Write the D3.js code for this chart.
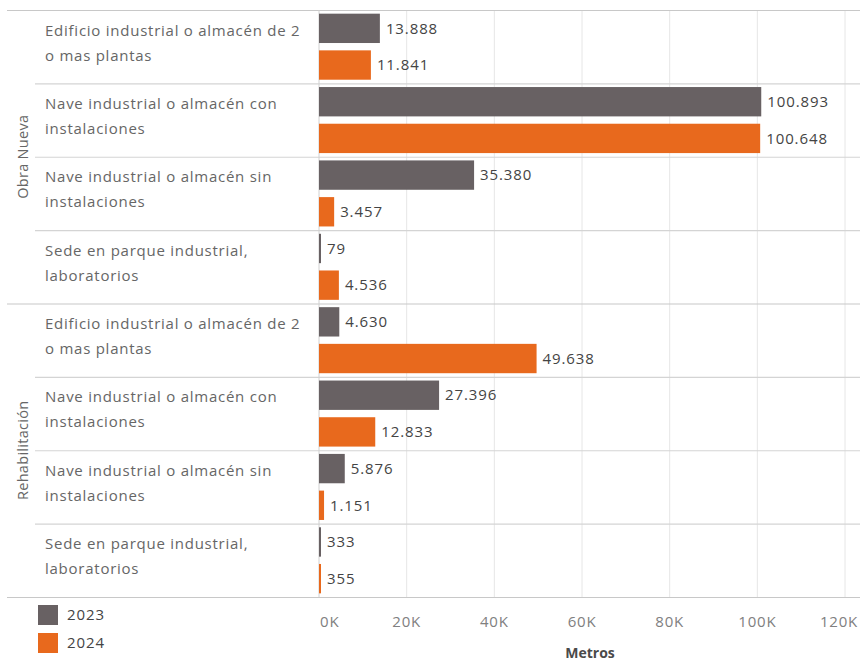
<!DOCTYPE html>
<html>
<head>
<script src="https://cdn.jsdelivr.net/npm/d3@7"></script>
<style>
  body { margin: 0; padding: 0; background: #fff; }
  svg { display: block; font-family: "Open Sans", sans-serif; }
</style>
</head>
<body>
<div id="viz"></div>
<script>
// data
var groups = ["Obra Nueva", "Rehabilitación"];
var categories = [
  ["Edificio industrial o almacén de 2", "o mas plantas"],
  ["Nave industrial o almacén con", "instalaciones"],
  ["Nave industrial o almacén sin", "instalaciones"],
  ["Sede en parque industrial,", "laboratorios"]
];
var years = ["2023", "2024"];
var values2023 = [13888, 100893, 35380, 79, 4630, 27396, 5876, 333];
var values2024 = [11841, 100648, 3457, 4536, 49638, 12833, 1151, 355];
var xTicks = [0, 20000, 40000, 60000, 80000, 100000, 120000];

var W = 860, H = 661;
var gray = "#686163", orange = "#e8691d";
var colors = [gray, orange];

var loc = d3.formatLocale({decimal: ",", thousands: ".", grouping: [3], currency: ["", "€"]});
var fmt = loc.format(",d");

var rows = [];
groups.forEach(function(g, gi) {
  categories.forEach(function(c, ci) {
    var i = gi * categories.length + ci;
    rows.push({group: g, gi: gi, lines: c, id: i, v: [values2023[i], values2024[i]]});
  });
});

var svg = d3.select("#viz").append("svg")
  .attr("width", W).attr("height", H);

var x = d3.scaleLinear().domain([0, 120000]).range([319, 845]);
var y = d3.scaleBand().domain(rows.map(function(d) { return d.id; })).range([10, 597]);
var yInner = d3.scaleBand().domain(years).range([0, y.bandwidth()]).paddingInner(0.2).paddingOuter(0.1);

// gridlines
svg.append("g").selectAll("line").data(xTicks.slice(1)).enter().append("line")
  .attr("x1", x).attr("x2", x).attr("y1", 10).attr("y2", 597)
  .attr("stroke", "#e6e6e6").attr("stroke-width", 1);

// row separators
svg.append("g").selectAll("line").data(rows.slice(1)).enter().append("line")
  .attr("x1", function(d) { return d.id % 4 === 0 ? 7 : 35; })
  .attr("x2", W)
  .attr("y1", function(d) { return y(d.id) + 0.5; })
  .attr("y2", function(d) { return y(d.id) + 0.5; })
  .attr("stroke", function(d) { return d.id % 4 === 0 ? "#c8c8c8" : "#d4d4d4"; })
  .attr("stroke-width", 1.2);

// top and bottom frame lines
[10, 597].forEach(function(yy) {
  svg.append("line").attr("x1", 7).attr("x2", W).attr("y1", yy + 0.5).attr("y2", yy + 0.5)
    .attr("stroke", "#c8c8c8").attr("stroke-width", 1.2);
});

// zero line
svg.append("line").attr("x1", x(0)).attr("x2", x(0)).attr("y1", 10).attr("y2", 597)
  .attr("stroke", "#d0d0d0").attr("stroke-width", 1);

// group labels
groups.forEach(function(g, gi) {
  var y0 = y(gi * 4), y1 = y(gi * 4 + 3) + y.bandwidth();
  svg.append("text")
    .attr("transform", "translate(28," + ((y0 + y1) / 2) + ") rotate(-90)")
    .attr("text-anchor", "middle")
    .attr("font-size", 14.5).attr("letter-spacing", 0.3).attr("fill", "#666")
    .text(g);
});

// category labels
var lab = svg.append("g").selectAll("text").data(rows).enter().append("text")
  .attr("x", 45)
  .attr("font-size", 15).attr("letter-spacing", 0.75).attr("fill", "#666");
lab.selectAll("tspan").data(function(d) { return d.lines.map(function(l, k) { return {l: l, k: k, d: d}; }); })
  .enter().append("tspan")
  .attr("x", 45)
  .attr("y", function(t) { return y(t.d.id) + 25.5 + t.k * 25; })
  .text(function(t) { return t.l; });

// bars
var rowG = svg.append("g").selectAll("g").data(rows).enter().append("g")
  .attr("transform", function(d) { return "translate(0," + y(d.id) + ")"; });

var bars = rowG.selectAll("g").data(function(d) {
  return years.map(function(yr, k) { return {yr: yr, k: k, v: d.v[k]}; });
}).enter().append("g");

bars.append("rect")
  .attr("x", x(0))
  .attr("y", function(d) { return yInner(d.yr); })
  .attr("width", function(d) { return Math.max(x(d.v) - x(0), 2); })
  .attr("height", yInner.bandwidth())
  .attr("fill", function(d) { return colors[d.k]; });

bars.append("text")
  .attr("x", function(d) { return Math.max(x(d.v), x(0) + 2) + 6; })
  .attr("y", function(d) { return yInner(d.yr) + yInner.bandwidth() / 2; })
  .attr("dy", "0.35em")
  .attr("font-size", 15).attr("letter-spacing", 0.9).attr("fill", "#444")
  .text(function(d) { return fmt(d.v); });

// x axis labels
svg.append("g").selectAll("text").data(xTicks).enter().append("text")
  .attr("x", function(d, i) { return i === 0 ? x(d) + 1 : i === xTicks.length - 1 ? W - 2 : x(d); })
  .attr("y", 627)
  .attr("text-anchor", function(d, i) { return i === 0 ? "start" : i === xTicks.length - 1 ? "end" : "middle"; })
  .attr("font-size", 15).attr("letter-spacing", 0.8).attr("fill", "#808080")
  .text(function(d) { return (d / 1000) + "K"; });

svg.append("text")
  .attr("x", 590).attr("y", 658)
  .attr("text-anchor", "middle")
  .attr("font-size", 14).attr("font-weight", "bold").attr("fill", "#4a4a4a")
  .text("Metros");

// legend
var leg = svg.append("g").selectAll("g").data(years).enter().append("g")
  .attr("transform", function(d, i) { return "translate(38," + (605 + i * 28) + ")"; });
leg.append("rect").attr("width", 20).attr("height", 20)
  .attr("fill", function(d, i) { return colors[i]; });
leg.append("text").attr("x", 29).attr("y", 10).attr("dy", "0.35em")
  .attr("font-size", 15).attr("letter-spacing", 0.9).attr("fill", "#444")
  .text(function(d) { return d; });
</script>
</body>
</html>
